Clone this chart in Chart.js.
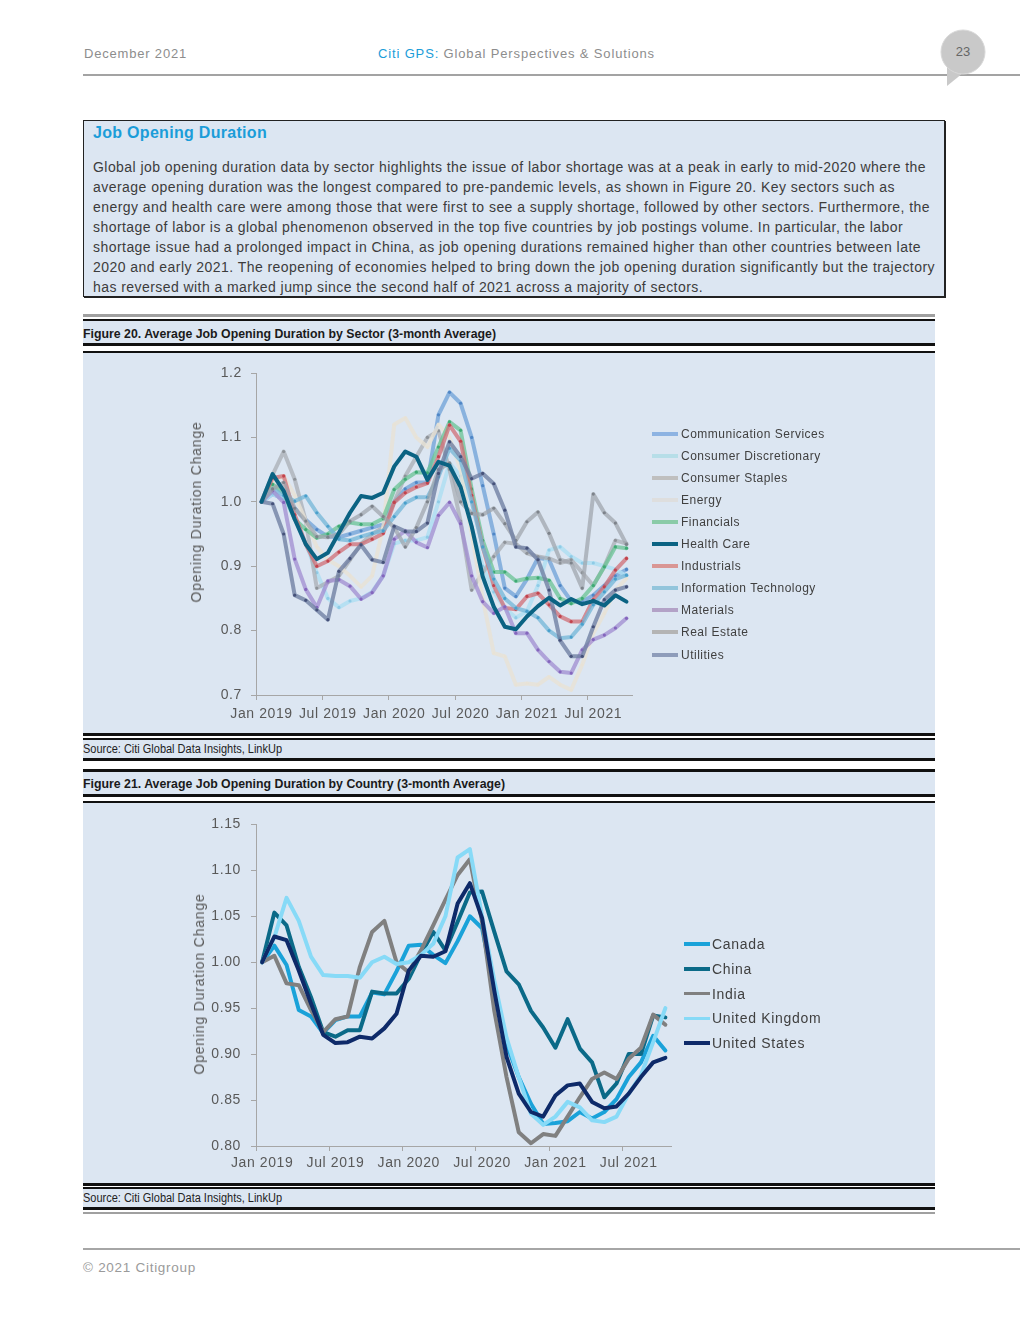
<!DOCTYPE html>
<html><head><meta charset="utf-8">
<script src="https://cdn.jsdelivr.net/npm/chart.js@4.4.1/dist/chart.umd.min.js"></script>
<style>
body{margin:0;width:1020px;height:1320px;background:#fff;position:relative;overflow:hidden;font-family:'Liberation Sans',Arial,sans-serif}
.a{position:absolute;white-space:nowrap}
.bar{position:absolute;left:83px;width:852px}
.blk{background:#111}
.bg{background:#dce6f2}
.ftitle{font-weight:bold;font-size:13px;line-height:16px;color:#1a1a1a;left:83px}
.src{font-size:12px;line-height:14px;color:#222;left:83px}
.body{font-size:14px;line-height:16px;color:#3c3c3c;left:93px}
.ytitle{font-size:14px;color:#595959;letter-spacing:0.8px;transform:translate(-50%,-50%) rotate(-90deg)}
</style></head><body>

<!-- header -->
<div class="a" data-w="103" style="left:84px;top:46px;font-size:13px;line-height:16px;color:#8d8d8d">December 2021</div>
<div class="a" data-w="277" style="left:378px;top:46px;font-size:13px;line-height:16px;color:#8d8d8d"><span style="color:#1b9dd9">Citi GPS:</span> Global Perspectives &amp; Solutions</div>
<div class="a" style="left:83px;top:74px;width:937px;height:1.5px;background:#a3a3a3"></div>
<svg class="a" style="left:930px;top:25px" width="70" height="70"><polygon points="17,40 33,48 17,61" fill="#c9c9c9"/><circle cx="33" cy="27" r="22" fill="#c9c9c9" stroke="#d8d8d8" stroke-width="1"/></svg>
<div class="a" style="left:953px;top:44px;width:20px;text-align:center;font-size:13px;line-height:16px;color:#666">23</div>

<!-- text box -->
<div class="a" style="left:83px;top:120px;width:860px;height:175px;background:#dce6f2;border:1px solid #222;box-shadow:1px 1px 0 #222"></div>
<div class="a" data-w="174" style="left:93px;top:123px;font-size:16px;line-height:20px;font-weight:bold;color:#1b9dd9">Job Opening Duration</div>
<div class="a body" data-w="833" style="top:159px">Global job opening duration data by sector highlights the issue of labor shortage was at a peak in early to mid-2020 where the</div>
<div class="a body" data-w="802" style="top:179px">average opening duration was the longest compared to pre-pandemic levels, as shown in Figure 20. Key sectors such as</div>
<div class="a body" data-w="837" style="top:199px">energy and health care were among those that were first to see a supply shortage, followed by other sectors. Furthermore, the</div>
<div class="a body" data-w="810" style="top:219px">shortage of labor is a global phenomenon observed in the top five countries by job postings volume. In particular, the labor</div>
<div class="a body" data-w="828" style="top:239px">shortage issue had a prolonged impact in China, as job opening durations remained higher than other countries between late</div>
<div class="a body" data-w="842" style="top:259px">2020 and early 2021. The reopening of economies helped to bring down the job opening duration significantly but the trajectory</div>
<div class="a body" data-w="610" style="top:279px">has reversed with a marked jump since the second half of 2021 across a majority of sectors.</div>

<!-- figure 20 frame -->
<div class="bar" style="top:314px;height:3px;background:#a0a0a0"></div>
<div class="bar blk" style="top:319px;height:2px"></div>
<div class="bar bg" style="top:321px;height:22px"></div>
<div class="a ftitle" data-w="413" data-mode="sx" style="top:326px">Figure 20. Average Job Opening Duration by Sector (3-month Average)</div>
<div class="bar blk" style="top:343px;height:3px"></div>
<div class="bar blk" style="top:351px;height:2px"></div>
<div class="bar bg" style="top:353px;height:380px"></div>
<canvas id="c20" class="a" width="852" height="379" style="left:83px;top:354px"></canvas>
<div class="a ytitle" style="left:196px;top:512px">Opening Duration Change</div>
<div id="leg20"></div>
<div class="bar blk" style="top:733px;height:3px"></div>
<div class="bar blk" style="top:738px;height:2px"></div>
<div class="bar bg" style="top:740px;height:18px"></div>
<div class="a src" data-w="199" data-mode="sx" style="top:742px">Source: Citi Global Data Insights, LinkUp</div>
<div class="bar blk" style="top:758px;height:3px"></div>

<!-- figure 21 frame -->
<div class="bar blk" style="top:769px;height:3px"></div>
<div class="bar bg" style="top:772px;height:22px"></div>
<div class="a ftitle" data-w="422" data-mode="sx" style="top:776px">Figure 21. Average Job Opening Duration by Country (3-month Average)</div>
<div class="bar blk" style="top:794px;height:3px"></div>
<div class="bar blk" style="top:801px;height:2px"></div>
<div class="bar bg" style="top:803px;height:380px"></div>
<canvas id="c21" class="a" width="852" height="377" style="left:83px;top:806px"></canvas>
<div class="a ytitle" style="left:199px;top:984px">Opening Duration Change</div>
<div id="leg21"></div>
<div class="bar blk" style="top:1183px;height:3px"></div>
<div class="bar blk" style="top:1187px;height:2px"></div>
<div class="bar bg" style="top:1189px;height:18px"></div>
<div class="a src" data-w="199" data-mode="sx" style="top:1191px">Source: Citi Global Data Insights, LinkUp</div>
<div class="bar blk" style="top:1207px;height:3px"></div>
<div class="bar" style="top:1212px;height:1.5px;background:#a0a0a0"></div>

<!-- footer -->
<div class="a" style="left:83px;top:1248px;width:937px;height:2px;background:#a6a6a6"></div>
<div class="a" data-w="113" style="left:83px;top:1260px;font-size:13.5px;line-height:16px;color:#9a9a9a">© 2021 Citigroup</div>

<script>
// ---------- data ----------
const months = ['Jan 2019','Feb 2019','Mar 2019','Apr 2019','May 2019','Jun 2019','Jul 2019','Aug 2019','Sep 2019','Oct 2019','Nov 2019','Dec 2019',
  'Jan 2020','Feb 2020','Mar 2020','Apr 2020','May 2020','Jun 2020','Jul 2020','Aug 2020','Sep 2020','Oct 2020','Nov 2020','Dec 2020',
  'Jan 2021','Feb 2021','Mar 2021','Apr 2021','May 2021','Jun 2021','Jul 2021','Aug 2021','Sep 2021','Oct 2021'];
const xTickLabels = ['Jan 2019','Jul 2019','Jan 2020','Jul 2020','Jan 2021','Jul 2021'];
const sectorTicks = [0.7, 0.8, 0.9, 1.0, 1.1, 1.2];
const countryTicks = [0.80, 0.85, 0.90, 0.95, 1.00, 1.05, 1.10, 1.15];

const sectorNames = ['Communication Services','Consumer Discretionary','Consumer Staples','Energy','Financials','Health Care','Industrials','Information Technology','Materials','Real Estate','Utilities'];
const commServices = [1.000,1.012,1.005,0.990,0.972,0.957,0.946,0.945,0.950,0.955,0.960,0.965,1.000,1.020,1.030,1.030,1.135,1.170,1.153,1.100,1.025,0.950,0.866,0.853,0.880,0.913,0.910,0.870,0.846,0.845,0.855,0.870,0.885,0.895];
const consDisc     = [1.000,1.012,1.005,0.975,0.935,0.890,0.850,0.836,0.846,0.850,0.860,0.885,0.935,0.940,0.940,0.945,1.000,1.060,1.040,0.960,0.900,0.860,0.835,0.820,0.830,0.870,0.925,0.930,0.915,0.905,0.905,0.900,0.895,0.885];
const consStaples  = [1.000,1.042,1.078,1.035,0.970,0.866,0.875,0.885,0.910,0.935,0.950,0.960,1.000,1.040,1.070,1.100,1.110,1.050,0.970,0.863,0.890,0.915,0.937,0.935,0.920,0.915,0.912,0.905,0.910,0.890,0.870,0.900,0.940,0.935];
const energy       = [1.000,1.030,1.040,1.010,0.970,0.930,0.910,0.900,0.885,0.868,0.885,0.960,1.120,1.130,1.100,1.085,1.120,1.100,1.050,0.950,0.850,0.765,0.760,0.716,0.718,0.716,0.728,0.716,0.708,0.747,0.796,0.827,0.863,0.881];
const financials   = [1.000,1.027,1.014,0.973,0.957,0.944,0.950,0.962,0.968,0.965,0.965,0.974,1.019,1.035,1.046,1.045,1.085,1.124,1.111,1.020,0.940,0.891,0.891,0.877,0.881,0.882,0.878,0.850,0.842,0.850,0.870,0.899,0.930,0.928];
const healthCare   = [1.000,1.043,1.017,0.973,0.934,0.911,0.921,0.952,0.983,1.009,1.006,1.014,1.055,1.078,1.070,1.034,1.062,1.056,1.023,0.962,0.884,0.837,0.806,0.802,0.822,0.838,0.851,0.839,0.849,0.841,0.846,0.839,0.855,0.845];
const industrials  = [1.000,1.037,1.040,0.980,0.934,0.900,0.908,0.922,0.934,0.934,0.942,0.951,0.999,1.014,1.023,1.029,1.070,1.119,1.094,1.010,0.930,0.870,0.835,0.833,0.853,0.858,0.840,0.822,0.814,0.814,0.848,0.868,0.894,0.912];
const infoTech     = [1.000,1.020,1.010,1.001,1.009,0.983,0.962,0.942,0.940,0.946,0.951,0.955,0.977,0.998,1.007,1.007,1.039,1.083,1.064,1.000,0.930,0.880,0.850,0.835,0.830,0.820,0.800,0.788,0.790,0.810,0.840,0.860,0.880,0.886];
const materials    = [1.000,1.017,0.999,0.911,0.864,0.836,0.877,0.879,0.869,0.849,0.859,0.885,0.942,0.955,0.937,0.929,0.979,0.999,0.966,0.885,0.845,0.827,0.837,0.796,0.796,0.770,0.752,0.736,0.734,0.770,0.786,0.793,0.804,0.819];
const realEstate   = [1.000,1.020,1.030,0.990,0.970,0.946,0.945,0.950,0.970,0.980,0.993,0.977,0.960,0.930,0.960,1.000,1.050,1.060,1.000,0.982,0.980,0.990,0.966,0.940,0.969,0.984,0.951,0.910,0.905,0.866,1.012,0.983,0.967,0.934];
const utilities    = [1.000,0.997,0.950,0.855,0.847,0.832,0.817,0.892,0.912,0.933,0.910,0.906,0.962,0.954,0.954,0.967,1.044,1.093,1.070,1.036,1.044,1.028,0.987,0.930,0.928,0.910,0.863,0.785,0.760,0.760,0.806,0.848,0.863,0.868];
const sectorSeries = [commServices, consDisc, consStaples, energy, financials, healthCare, industrials, infoTech, materials, realEstate, utilities];

const countryNames = ['Canada','China','India','United Kingdom','United States'];
const canada = [1.000,1.018,0.997,0.948,0.941,0.923,0.937,0.941,0.941,0.967,0.965,0.990,1.018,1.019,1.008,0.999,1.023,1.050,1.037,0.968,0.911,0.875,0.846,0.824,0.825,0.827,0.837,0.830,0.837,0.851,0.875,0.891,0.920,0.904];
const china  = [1.000,1.054,1.040,0.995,0.962,0.924,0.919,0.926,0.926,0.968,0.966,0.966,0.982,1.009,1.033,1.013,1.044,1.076,1.077,1.033,0.990,0.976,0.947,0.929,0.907,0.938,0.906,0.891,0.853,0.868,0.900,0.900,0.942,0.940];
const india  = [1.000,1.007,0.977,0.975,0.948,0.924,0.938,0.941,0.995,1.033,1.045,1.000,0.989,1.013,1.040,1.068,1.095,1.112,1.044,0.947,0.875,0.815,0.803,0.813,0.811,0.832,0.853,0.873,0.880,0.873,0.895,0.907,0.943,0.932];
const uk     = [1.000,1.027,1.070,1.045,1.006,0.986,0.985,0.985,0.983,1.000,1.006,0.998,1.000,1.008,1.020,1.050,1.114,1.123,1.050,0.980,0.918,0.875,0.835,0.823,0.832,0.848,0.842,0.828,0.826,0.832,0.857,0.877,0.913,0.950];
const us     = [1.000,1.028,1.024,0.991,0.955,0.921,0.912,0.913,0.919,0.917,0.928,0.944,0.991,1.007,1.006,1.012,1.064,1.086,1.048,0.969,0.897,0.857,0.837,0.832,0.855,0.866,0.868,0.848,0.841,0.843,0.857,0.875,0.891,0.896];
const countrySeries = [canada, china, india, uk, us];

// ---------- styles ----------
const sectorLine   = ['rgba(110,160,215,0.75)','rgba(175,222,242,0.85)','rgba(168,172,178,0.72)','rgba(232,226,212,0.8)','rgba(105,195,148,0.75)','#0b6383','rgba(208,105,112,0.72)','rgba(115,182,215,0.75)','rgba(160,140,208,0.75)','rgba(158,163,170,0.72)','rgba(110,125,162,0.78)'];
const sectorPoint  = ['#4f86c6','#8fcbe6','#8d9298','rgba(232,226,212,0.8)','#3eaa74','#0b6383','#c2444e','#4aa0cc','#8466bd','#7d838b','#46527a'];
const sectorLegend = ['#8db3e2','#b7dee8','#bfbfbf','#dedede','#8acba8','#0b6383','#d99694','#93c5dc','#b3a2c7','#b4b4b4','#8e9cba'];
const countryColor = ['#1aa2d9','#0b6a88','#808080','#87daf7','#0e2a69'];

const FONT = {family:"'Liberation Sans', Arial, sans-serif", size:14};
const AX = '#a6a6a6', TXT = '#595959';

function makeChart(id, datasets, o) {
  return new Chart(document.getElementById(id), {
    type:'line',
    data:{labels:months, datasets},
    options:{
      responsive:false, animation:false,
      layout:{padding:{left:0, top:o.top, right:o.right, bottom:0}},
      plugins:{legend:{display:false}, tooltip:{enabled:false}},
      elements:{line:{tension:0, borderJoinStyle:'round', borderCapStyle:'round'}},
      scales:{
        x:{type:'category', offset:true,
          grid:{drawOnChartArea:false, drawTicks:true, tickLength:5, offset:true, lineWidth:1,
                color:c => (c.type === 'tick' && xTickLabels.includes(months[c.index])) ? AX : 'rgba(0,0,0,0)'},
          border:{color:AX, width:1},
          ticks:{autoSkip:false, maxRotation:0, minRotation:0, padding:o.xPad, color:TXT, font:FONT,
                 callback:(v,i) => xTickLabels.includes(months[i]) ? months[i] : ''},
          afterFit:s => { s.height = o.xH; }},
        y:{type:'linear', min:o.ticks[0], max:o.ticks[o.ticks.length-1],
          grid:{drawOnChartArea:false, drawTicks:true, tickLength:5, color:AX},
          border:{color:AX, width:1},
          ticks:{padding:o.yPad, color:TXT, font:FONT, callback:v => Number(v).toFixed(o.dec)},
          afterBuildTicks:s => { s.ticks = o.ticks.map(v => ({value:v})); },
          afterFit:s => { s.width = 173; }}
      }
    },
    plugins:[{id:'ls', beforeDraw(ch){ ch.ctx.letterSpacing = '0.6px'; }}]
  });
}

const ds20 = sectorNames.map((n,k) => ({
  label:n, data:sectorSeries[k],
  borderColor:sectorLine[k], borderWidth: n === 'Health Care' ? 4 : 4,
  pointRadius: n === 'Health Care' ? 0 : 1.6, pointHoverRadius:0, pointBorderWidth:0,
  pointBackgroundColor:sectorPoint[k],
  order: n === 'Health Care' ? 0 : sectorNames.length - k
}));
makeChart('c20', ds20, {top:19, right:303, xH:38, xPad:5.5, yPad:9, ticks:sectorTicks, dec:1});

const ds21 = countryNames.map((n,k) => ({
  label:n, data:countrySeries[k], borderColor:countryColor[k], borderWidth:4,
  pointRadius:0, pointHoverRadius:0, order: countryNames.length - k
}));
makeChart('c21', ds21, {top:16, right:263.5, xH:37, xPad:3.6, yPad:10, ticks:countryTicks, dec:2});

// ---------- legends ----------
function legend(id, names, colors, o) {
  const el = document.getElementById(id);
  names.forEach((n,k) => {
    const cy = o.y0 + k * o.dy;
    el.insertAdjacentHTML('beforeend',
      `<div class="a" style="left:${o.lx}px;top:${cy - o.lw/2}px;width:26px;height:${o.lw}px;background:${colors[k]}"></div>` +
      `<div class="a" style="left:${o.tx}px;top:${cy - o.lh/2}px;font-size:${o.fs}px;line-height:${o.lh}px;letter-spacing:${o.ls}px;color:#404040">${n}</div>`);
  });
}
legend('leg20', sectorNames, sectorLegend, {y0:433.5, dy:22.1, lx:652, tx:681, lw:4, fs:12, lh:14, ls:0.5});
legend('leg21', countryNames, countryColor, {y0:944, dy:24.8, lx:684, tx:712, lw:3.5, fs:14, lh:16, ls:0.7});

// ---------- fit text widths ----------
document.querySelectorAll('[data-w]').forEach(el => {
  const target = +el.dataset.w;
  const w = el.getBoundingClientRect().width;
  if (el.dataset.mode === 'sx') {
    el.style.transformOrigin = '0 50%';
    el.style.transform = `scaleX(${target / w})`;
  } else {
    el.style.letterSpacing = ((target - w) / el.textContent.length) + 'px';
  }
});
</script>
</body></html>
